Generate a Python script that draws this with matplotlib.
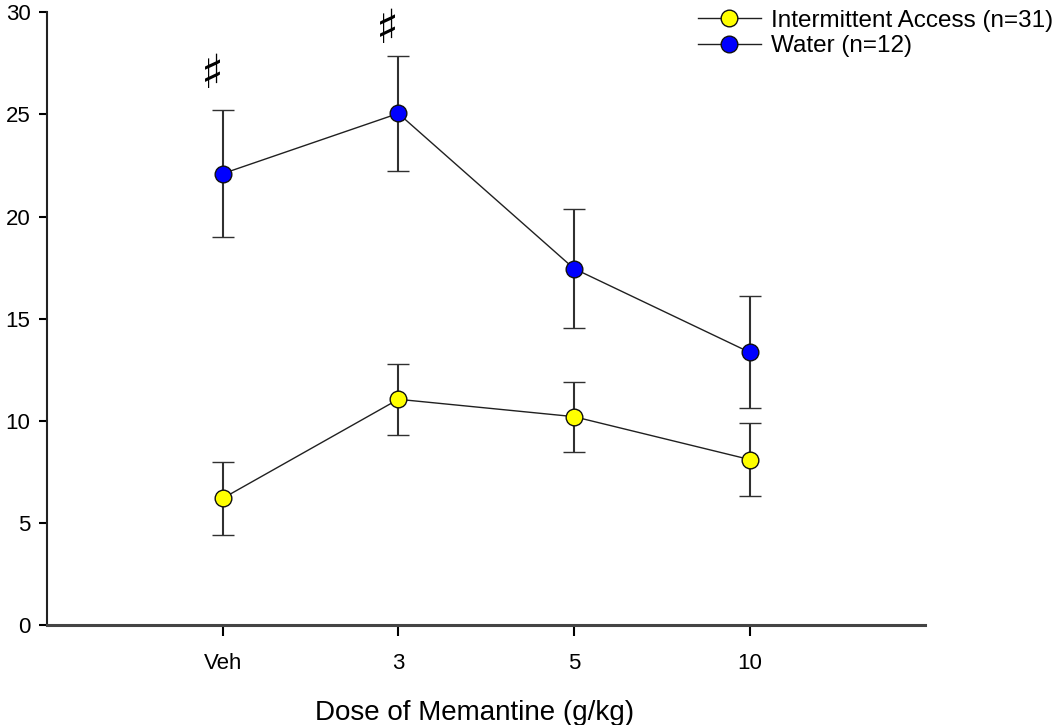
import matplotlib
matplotlib.use("Agg")
import matplotlib.pyplot as plt
from matplotlib.lines import Line2D

plt.rcParams['font.family'] = ['Liberation Sans', 'DejaVu Sans']

doses = ["Veh", "3", "5", "10"]
ia_mean = [6.2, 11.05, 10.2, 8.1]
ia_err = [1.8, 1.75, 1.72, 1.77]
water_mean = [22.1, 25.05, 17.45, 13.35]
water_err = [3.1, 2.8, 2.9, 2.75]
sig_labels = ["♯", "♯", "", ""]
sig_y = [26.9, 29.1, None, None]

fig = plt.figure(figsize=(10.62, 7.25), dpi=100)
ax = fig.add_axes([0.0443, 0.138, 0.827, 0.845])

x = list(range(1, len(doses) + 1))

ax.errorbar(x, water_mean, yerr=water_err, color='#202020', lw=1.0,
            marker='o', ms=12, mfc='#0000ff', mec='#101010', mew=1.0,
            ecolor='#303030', elinewidth=1.5, capsize=8, capthick=1.5,
            zorder=3)
ax.errorbar(x, ia_mean, yerr=ia_err, color='#202020', lw=1.0,
            marker='o', ms=12, mfc='#ffff00', mec='#101010', mew=1.0,
            ecolor='#303030', elinewidth=1.5, capsize=8, capthick=1.5,
            zorder=3)

for xi, s, sy in zip(x, sig_labels, sig_y):
    if s:
        ax.text(xi - 0.06, sy, s, ha='center', va='center', fontsize=34,
                family=['DejaVu Sans'], color='black')

ax.set_xlim(0, 5)
ax.set_ylim(0, 30)
ax.set_xticks(x)
ax.set_xticklabels(doses, fontsize=16)
ax.set_yticks([0, 5, 10, 15, 20, 25, 30])
ax.tick_params(axis='y', labelsize=16, length=6, width=1.5, direction='out', pad=6)
ax.tick_params(axis='x', length=8, width=1.5, direction='out', pad=12)
for sp in ['top', 'right']:
    ax.spines[sp].set_visible(False)
ax.spines['left'].set_linewidth(1.5)
ax.spines['bottom'].set_linewidth(2.2)
ax.spines['left'].set_color('#222222')
ax.spines['bottom'].set_color('#444444')

ax.set_xlabel('Dose of Memantine (g/kg)', fontsize=20)
ax.xaxis.set_label_coords(0.487, -0.122)

handles = [
    Line2D([], [], color='#202020', lw=1.0, marker='o', ms=12,
           mfc='#ffff00', mec='#101010', mew=1.0),
    Line2D([], [], color='#202020', lw=1.0, marker='o', ms=12,
           mfc='#0000ff', mec='#101010', mew=1.0),
]
labels = ['Intermittent Access (n=31)', 'Water (n=12)']
fig.legend(handles, labels, loc='upper right',
           bbox_to_anchor=(1.012, 1.017), frameon=False, fontsize=17.5,
           handlelength=2.6, handletextpad=0.4, labelspacing=0.15)

fig.savefig('out.png', dpi=100)
